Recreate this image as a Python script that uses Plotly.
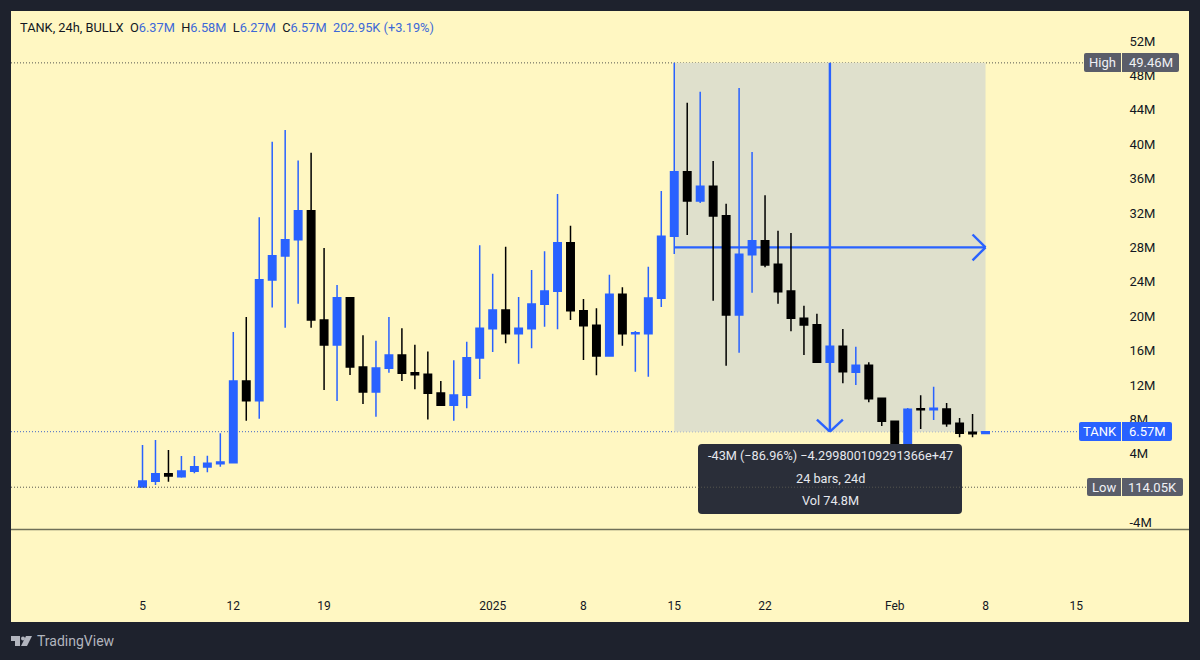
import pandas as pd
import plotly.graph_objects as go

# --- data (millions) -------------------------------------------------------
dates = [d.strftime("%Y-%m-%d") for d in pd.date_range("2024-12-05", "2025-02-08")]
opens = [0.15, 0.80, 1.69, 1.34, 1.96, 2.47, 2.85, 2.97, 12.47, 10.18, 24.20, 27.00, 28.90, 32.27, 19.56, 16.65, 22.15, 14.09, 11.19, 13.94, 15.49, 13.43, 13.24, 11.07, 9.64, 10.80, 15.14,
         18.55, 20.72, 17.97, 18.55, 21.38, 22.89, 28.55, 20.64, 18.94, 15.37, 22.55, 17.97, 17.97, 22.08, 29.29, 36.80, 33.40, 35.10, 31.69, 20.14, 27.15, 28.78, 26.03, 22.93, 19.76, 19.01, 14.64, 16.50,
         13.48, 14.29, 10.45, 7.78, 4.60, 9.24, 9.13, 9.20, 7.55, 6.50, 6.37]
highs = [5.02, 5.60, 4.44, 3.74, 3.74, 3.78, 6.38, 18.16, 19.90, 31.50, 40.30, 41.65, 38.10, 39.00, 27.93, 23.63, 22.15, 17.78, 17.15, 19.90, 18.60, 16.69, 15.90, 12.47, 14.87, 17.04, 28.24,
         24.94, 28.08, 22.23, 25.37, 27.54, 34.20, 30.52, 22.00, 20.92, 24.83, 23.36, 18.28, 25.76, 34.56, 49.46, 44.83, 46.10, 38.05, 33.08, 46.53, 39.09, 34.06, 29.94, 29.67, 21.22, 20.29, 17.00, 18.51,
         16.46, 14.64, 10.45, 7.78, 9.33, 10.80, 11.80, 9.90, 8.16, 8.63, 6.58]
lows = [0.11, 0.37, 0.76, 1.22, 1.73, 1.85, 2.50, 2.90, 7.85, 8.08, 21.00, 18.66, 21.45, 18.66, 11.42, 10.14, 13.16, 9.79, 8.31, 13.43, 12.47, 11.50, 8.00, 9.64, 7.85, 9.29, 12.70,
        15.84, 16.85, 14.48, 16.27, 18.78, 18.47, 19.56, 14.90, 13.13, 15.37, 16.57, 13.55, 12.97, 21.07, 27.23, 29.44, 33.16, 21.80, 14.24, 15.76, 22.73, 25.69, 21.45, 18.24, 15.49, 14.64, 13.50, 12.20,
        12.00, 9.99, 7.23, 4.20, 4.20, 6.88, 7.93, 7.15, 5.92, 5.92, 6.27]
closes = [0.85, 1.69, 1.42, 2.00, 2.50, 2.90, 3.05, 12.47, 10.18, 24.25, 27.03, 28.90, 32.27, 19.56, 16.65, 22.15, 14.09, 11.19, 13.98, 15.49, 13.36, 13.20, 11.03, 9.64, 10.84, 15.17, 18.59,
          20.72, 17.97, 18.59, 21.42, 22.93, 28.55, 20.64, 18.90, 15.37, 22.55, 17.97, 18.08, 22.12, 29.29, 36.80, 33.40, 35.10, 31.65, 20.14, 27.20, 28.78, 25.95, 22.85, 19.76, 18.98, 14.64, 16.50, 13.55,
          14.29, 10.41, 7.78, 4.60, 9.17, 9.13, 9.29, 7.50, 6.38, 6.34, 6.57]

price_ticks = [52, 48, 44, 40, 36, 32, 28, 24, 20, 16, 12, 8, 4, -4]
price_labels = [f"{v}M" for v in price_ticks]
time_ticks = ["2024-12-05", "2024-12-12", "2024-12-19", "2025-01-01", "2025-01-08", "2025-01-15", "2025-01-22", "2025-02-01", "2025-02-08", "2025-02-15"]
time_labels = ["5", "12", "19", "2025", "8", "15", "22", "Feb", "8", "15"]

HIGH, LOW, LAST = 49.46, 0.11405, 6.57
RANGE_START, RANGE_END, RANGE_MID = "2025-01-15", "2025-02-08", "2025-01-27"
MID_PRICE = 28.0

# --- style ------------------------------------------------------------------
W, H = 1200, 660
L, R, T, B = 11, 1189, 11, 622
BG, FRAME = "#FFF7C2", "#1E222D"
BLUE, BLACK = "#2962FF", "#000000"
SHADE = "#DFE0CC"
FONT = "Roboto"
GREY_BADGE = "#5A5D69"
TIP = "#2A2E39"
DOTS = "1px,2px"


def fx(px):
    return (px - L) / (R - L)


def fy(py):
    return (B - py) / (B - T)


def rounded(x0, y0, x1, y1, r, fill, corners=(True, True, True, True)):
    a, b, c, d = [r if k else 0 for k in corners]
    p = (f"M {fx(x0 + a)} {fy(y0)} L {fx(x1 - b)} {fy(y0)} Q {fx(x1)} {fy(y0)} {fx(x1)} {fy(y0 + b)} "
         f"L {fx(x1)} {fy(y1 - c)} Q {fx(x1)} {fy(y1)} {fx(x1 - c)} {fy(y1)} "
         f"L {fx(x0 + d)} {fy(y1)} Q {fx(x0)} {fy(y1)} {fx(x0)} {fy(y1 - d)} "
         f"L {fx(x0)} {fy(y0 + a)} Q {fx(x0)} {fy(y0)} {fx(x0 + a)} {fy(y0)} Z")
    return dict(type="path", xref="paper", yref="paper", path=p, fillcolor=fill, line=dict(width=0), layer="above")


def poly(points, fill):
    p = "M " + " L ".join(f"{fx(x)} {fy(y)}" for x, y in points) + " Z"
    return dict(type="path", xref="paper", yref="paper", path=p, fillcolor=fill, line=dict(width=0), layer="above")


def day(s, delta):
    return (pd.Timestamp(s) + pd.Timedelta(days=delta)).strftime("%Y-%m-%d %H:%M")


fig = go.Figure()
fig.add_trace(go.Candlestick(
    x=dates, open=opens, high=highs, low=lows, close=closes,
    increasing=dict(line=dict(color=BLUE, width=1.5), fillcolor=BLUE),
    decreasing=dict(line=dict(color=BLACK, width=1.5), fillcolor=BLACK),
    whiskerwidth=0, showlegend=False, hoverinfo="skip",
))

ARROW = dict(color=BLUE, width=2.4)
shapes = [
    # measured range box
    dict(type="rect", xref="x", yref="y", x0=RANGE_START, x1=RANGE_END, y0=LAST, y1=HIGH, fillcolor=SHADE, line=dict(width=0), layer="below"),
    # high / last price lines
    dict(type="line", xref="paper", yref="y", x0=0, x1=fx(1085), y0=HIGH, y1=HIGH, line=dict(color="#55564F", width=1, dash=DOTS), layer="below"),
    dict(type="line", xref="paper", yref="y", x0=0, x1=fx(1079), y0=LAST, y1=LAST, line=dict(color="#3F66C8", width=1, dash=DOTS), layer="below"),
    # arrows
    dict(type="line", xref="x", yref="y", x0=RANGE_START, x1=RANGE_END, y0=MID_PRICE, y1=MID_PRICE, line=ARROW, layer="below"),
    dict(type="line", xref="x", yref="y", x0=RANGE_MID, x1=RANGE_MID, y0=HIGH, y1=LAST, line=ARROW, layer="below"),
    dict(type="line", xref="x", yref="y", x0=day(RANGE_END, -1), x1=RANGE_END, y0=MID_PRICE + 1.5, y1=MID_PRICE, line=ARROW, layer="below"),
    dict(type="line", xref="x", yref="y", x0=day(RANGE_END, -1), x1=RANGE_END, y0=MID_PRICE - 1.5, y1=MID_PRICE, line=ARROW, layer="below"),
    dict(type="line", xref="x", yref="y", x0=day(RANGE_MID, -1), x1=RANGE_MID, y0=LAST + 1.4, y1=LAST, line=ARROW, layer="below"),
    dict(type="line", xref="x", yref="y", x0=day(RANGE_MID, 1), x1=RANGE_MID, y0=LAST + 1.4, y1=LAST, line=ARROW, layer="below"),
    # pane separator
    dict(type="line", xref="paper", yref="paper", x0=0, x1=1, y0=fy(529.5), y1=fy(529.5), line=dict(color="#6F7058", width=1.6), layer="above"),
    # tooltip
    rounded(698, 444, 962, 514, 4, TIP),
    # low line above tooltip
    dict(type="line", xref="paper", yref="y", x0=0, x1=fx(1087), y0=LOW, y1=LOW, line=dict(color="#55564F", width=1, dash=DOTS), layer="above"),
    # price badges
    rounded(1084, 53, 1121, 72, 2, GREY_BADGE, (True, False, False, True)),
    rounded(1122, 53, 1179, 72, 2, GREY_BADGE, (False, True, True, False)),
    rounded(1079, 422, 1121, 441, 2, BLUE, (True, False, False, True)),
    rounded(1122, 422, 1172, 441, 2, BLUE, (False, True, True, False)),
    rounded(1087, 478, 1121, 496, 2, GREY_BADGE, (True, False, False, True)),
    rounded(1122, 478, 1183, 496, 2, GREY_BADGE, (False, True, True, False)),
    # TradingView logo
    poly([(11, 636), (20, 636), (20, 646), (15, 646), (15, 641), (11, 641)], "#B2B5BE"),
    poly([(26, 636), (32, 636), (27, 646), (21, 646)], "#B2B5BE"),
    dict(type="circle", xref="paper", yref="paper", x0=fx(21), x1=fx(25), y0=fy(640.5), y1=fy(636.5), fillcolor="#B2B5BE", line=dict(width=0), layer="above"),
]


def label(px, py, text, color="#131722", size=12, anchor="center"):
    return dict(xref="paper", yref="paper", x=fx(px), y=fy(py), text=text, showarrow=False,
                xanchor=anchor, yanchor="middle", font=dict(family=FONT, size=size, color=color))


VAL = "#3D68D8"
header = ("TANK, 24h, BULLX&nbsp;&nbsp;O<span style='color:%s'>6.37M</span>&nbsp;&nbsp;H<span style='color:%s'>6.58M</span>"
          "&nbsp;&nbsp;L<span style='color:%s'>6.27M</span>&nbsp;&nbsp;C<span style='color:%s'>6.57M</span>"
          "&nbsp;&nbsp;<span style='color:%s'>202.95K (+3.19%%)</span>") % (VAL, VAL, VAL, VAL, VAL)

annotations = [
    label(18, 27, header, anchor="left", size=12.8),
    label(1102.5, 62.5, "High", "#F0F1F5", 13),
    label(1151, 62.5, "49.46M", "#F0F1F5", 13),
    label(1100, 431.5, "TANK", "#FFFFFF", 13),
    label(1147, 431.5, "6.57M", "#FFFFFF", 13),
    label(1104, 487, "Low", "#F0F1F5", 13),
    label(1152.5, 487, "114.05K", "#F0F1F5", 13),
    label(830, 456, "-43M (−86.96%) −4.299800109291366e+47", "#E6E8EE", 12.7),
    label(830, 478, "24 bars, 24d", "#E6E8EE", 12.7),
    label(830, 500, "Vol 74.8M", "#E6E8EE", 12.7),
    label(35, 641, "TradingView", "#B2B5BE", 14, anchor="left"),
]

fig.update_layout(
    width=W, height=H, autosize=False,
    margin=dict(l=L, r=W - R, t=T, b=H - B, pad=0),
    paper_bgcolor=FRAME, plot_bgcolor=BG,
    font=dict(family=FONT, size=12, color="#131722"),
    boxgap=0.18, showlegend=False, hovermode=False,
    shapes=shapes, annotations=annotations,
    xaxis=dict(
        type="date",
        range=[day("2024-12-05", -10.14), day("2024-12-05", 80.69)],
        tickmode="array", tickvals=time_ticks, ticktext=time_labels,
        ticklabelposition="inside", ticks="inside", ticklen=9, tickcolor="rgba(0,0,0,0)",
        tickfont=dict(family=FONT, size=12, color="#131722"),
        showgrid=False, zeroline=False, showline=False,
        rangeslider=dict(visible=False), fixedrange=True,
    ),
    yaxis=dict(
        range=[-15.56, 55.49], side="right", anchor="free", position=fx(1128.5),
        tickmode="array", tickvals=price_ticks, ticktext=price_labels,
        ticks="", tickfont=dict(family=FONT, size=13, color="#131722"),
        showgrid=False, zeroline=False, showline=False, fixedrange=True,
    ),
)

fig.write_html("out.html", config=dict(displayModeBar=False),
               post_script="document.body.style.margin='0';document.body.style.background='%s';" % FRAME)
